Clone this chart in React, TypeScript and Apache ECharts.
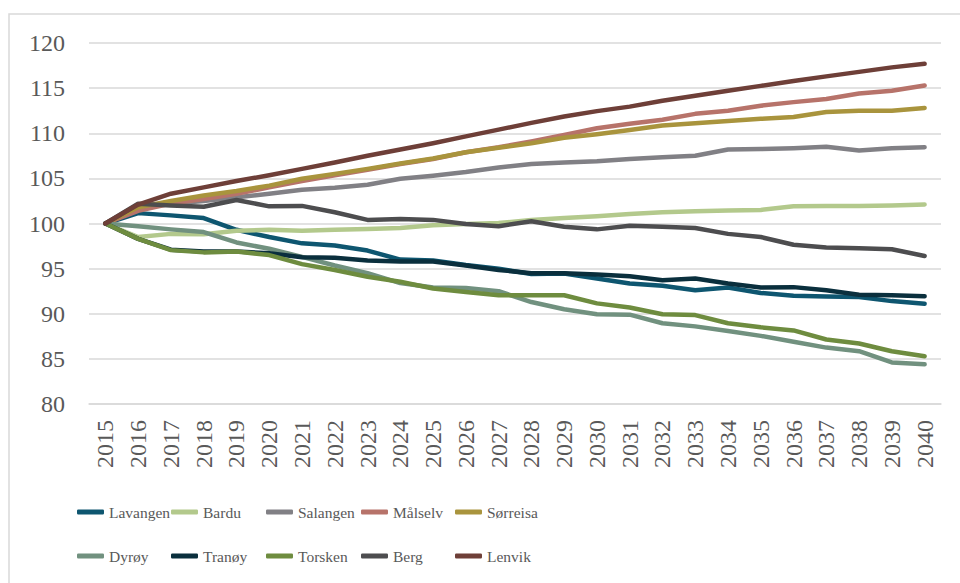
import React, { useEffect, useRef } from "react";
import * as echarts from "echarts";

const years = ["2015","2016","2017","2018","2019","2020","2021","2022","2023","2024","2025","2026","2027","2028","2029","2030","2031","2032","2033","2034","2035","2036","2037","2038","2039","2040"];

const lavangen = [100, 101.15, 100.9, 100.6, 99.3, 98.5, 97.8, 97.56, 97.0, 96.0, 95.9, 95.4, 95.0, 94.4, 94.45, 93.9, 93.35, 93.1, 92.6, 92.9, 92.3, 92.0, 91.9, 91.85, 91.4, 91.1];
const bardu = [100, 98.5, 98.85, 98.8, 99.2, 99.3, 99.2, 99.3, 99.4, 99.5, 99.8, 99.95, 100.05, 100.4, 100.6, 100.8, 101.05, 101.25, 101.35, 101.45, 101.5, 101.9, 101.95, 101.95, 102.0, 102.1];
const salangen = [100, 101.7, 102.2, 102.5, 102.9, 103.3, 103.75, 103.95, 104.3, 104.95, 105.3, 105.7, 106.2, 106.6, 106.75, 106.9, 107.15, 107.35, 107.5, 108.2, 108.25, 108.35, 108.5, 108.1, 108.35, 108.45];
const malselv = [100, 101.4, 102.2, 102.7, 103.3, 104.0, 104.7, 105.35, 105.95, 106.6, 107.15, 107.9, 108.45, 109.1, 109.8, 110.55, 111.05, 111.5, 112.15, 112.5, 113.05, 113.45, 113.8, 114.4, 114.7, 115.3];
const sorreisa = [100, 101.8, 102.5, 103.1, 103.6, 104.2, 104.95, 105.5, 106.05, 106.65, 107.2, 107.9, 108.4, 108.9, 109.5, 109.9, 110.35, 110.85, 111.1, 111.35, 111.6, 111.8, 112.35, 112.5, 112.5, 112.8];
const dyroy = [100, 99.7, 99.35, 99.05, 97.9, 97.2, 96.3, 95.35, 94.5, 93.4, 92.9, 92.85, 92.5, 91.3, 90.5, 89.95, 89.9, 88.95, 88.6, 88.1, 87.55, 86.9, 86.25, 85.85, 84.6, 84.4];
const tranoy = [100, 98.3, 97.1, 96.9, 96.9, 96.7, 96.25, 96.2, 95.9, 95.8, 95.8, 95.35, 94.85, 94.5, 94.5, 94.35, 94.15, 93.7, 93.9, 93.35, 92.9, 92.95, 92.6, 92.1, 92.05, 91.95];
const torsken = [100, 98.3, 97.05, 96.8, 96.9, 96.5, 95.5, 94.85, 94.1, 93.55, 92.8, 92.4, 92.05, 92.05, 92.05, 91.15, 90.7, 89.95, 89.85, 88.95, 88.5, 88.15, 87.15, 86.7, 85.85, 85.3];
const berg = [100, 102.2, 102.0, 101.85, 102.6, 101.9, 101.95, 101.25, 100.4, 100.5, 100.4, 99.95, 99.7, 100.25, 99.65, 99.35, 99.75, 99.65, 99.5, 98.85, 98.5, 97.65, 97.35, 97.25, 97.15, 96.4];
const lenvik = [100, 102.1, 103.3, 104.0, 104.7, 105.35, 106.05, 106.75, 107.5, 108.2, 108.9, 109.65, 110.4, 111.15, 111.85, 112.45, 112.95, 113.6, 114.15, 114.7, 115.25, 115.8, 116.3, 116.8, 117.3, 117.7];

const seriesNames = ["Lavangen", "Bardu", "Salangen", "Målselv", "Sørreisa", "Dyrøy", "Tranøy", "Torsken", "Berg", "Lenvik"];
const seriesValues = [lavangen, bardu, salangen, malselv, sorreisa, dyroy, tranoy, torsken, berg, lenvik];
const seriesColors = ["#0e5670", "#b3c98c", "#818085", "#b7736a", "#a9943d", "#71917f", "#0a2f3d", "#6e8c3f", "#4d4d4f", "#6e3f38"];

const FONT = "Liberation Serif";

export default function App() {
  const ref = useRef<HTMLDivElement>(null);
  useEffect(() => {
    if (!ref.current) return;
    const chart = echarts.init(ref.current, undefined, { renderer: "svg" });
    const colLeft = [77, 171, 266, 361, 455];
    const rowCenter = [512, 556];
    const legends = seriesNames.map((name, i) => ({
      data: [name],
      left: colLeft[i % 5],
      top: rowCenter[Math.floor(i / 5)] - 10,
      icon: "roundRect",
      itemWidth: 27,
      itemHeight: 5,
      itemGap: 0,
      padding: 0,
      selectedMode: false,
      textStyle: { fontFamily: FONT, fontSize: 15.5, color: "#595959", lineHeight: 20 },
    }));
    chart.setOption({
      animation: false,
      backgroundColor: "#ffffff",
      graphic: [
        {
          type: "rect",
          shape: { x: 9, y: 14, width: 970, height: 600 },
          style: { fill: "none", stroke: "#d9d9d9", lineWidth: 1.5 },
          silent: true,
        },
      ],
      legend: legends,
      grid: { left: 89, right: 19, top: 43, bottom: 179, containLabel: false },
      xAxis: {
        type: "category",
        data: years,
        boundaryGap: true,
        axisLine: { show: true, lineStyle: { color: "#d9d9d9", width: 1.5 } },
        axisTick: { show: false },
        axisLabel: { rotate: 90, margin: 16, fontFamily: FONT, fontSize: 24, color: "#595959", interval: 0 },
      },
      yAxis: {
        type: "value",
        min: 80,
        max: 120,
        interval: 5,
        axisLine: { show: false },
        axisTick: { show: false },
        axisLabel: { margin: 24, fontFamily: FONT, fontSize: 24, color: "#595959" },
        splitLine: { lineStyle: { color: "#d9d9d9", width: 1.5 } },
      },
      series: seriesNames.map((name, i) => ({
        name,
        type: "line",
        data: seriesValues[i],
        color: seriesColors[i],
        symbol: "none",
        lineStyle: { width: 4.5, color: seriesColors[i], cap: "round", join: "round" },
      })),
    });
    return () => chart.dispose();
  }, []);
  return <div ref={ref} style={{ position: "absolute", left: 0, top: 0, width: 960, height: 583 }} />;
}
